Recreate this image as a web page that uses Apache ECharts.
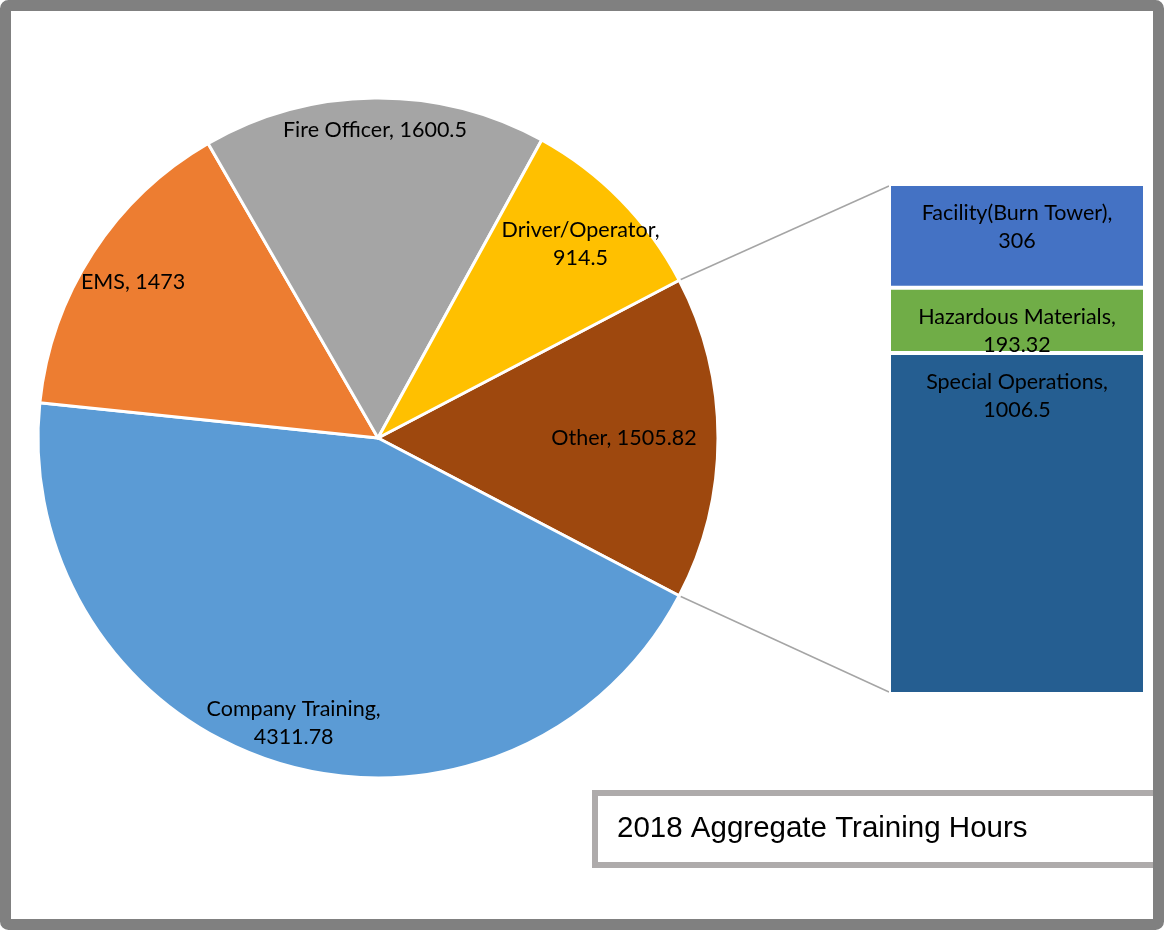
<!DOCTYPE html>
<html>
<head>
<meta charset="utf-8">
<style>
  html, body { margin: 0; padding: 0; background: #fff; }
  #main { width: 1164px; height: 930px; }
</style>
<script src="https://cdn.jsdelivr.net/npm/echarts@6/dist/echarts.min.js"></script>
</head>
<body>
<div id="main"></div>
<script>
// pie slices, in clockwise order starting from "Other"
var pieNames = ['Other', 'Company Training', 'EMS', 'Fire Officer', 'Driver/Operator'];
var pieValues = [1505.82, 4311.78, 1473, 1600.5, 914.5];
var pieColors = ['#9E480E', '#5B9BD5', '#ED7D31', '#A5A5A5', '#FFC000'];

// breakdown of "Other", bottom to top
var barNames = ['Special Operations', 'Hazardous Materials', 'Facility(Burn Tower)'];
var barValues = [1006.5, 193.32, 306];
var barColors = ['#255E91', '#70AD47', '#4472C4'];

var titleText = '2018 Aggregate Training Hours';

var cx = 378, cy = 438, R = 340;
var total = pieValues.reduce(function (a, b) { return a + b; }, 0);
var otherTotal = barValues.reduce(function (a, b) { return a + b; }, 0);
var startAngle = pieValues[0] / total * 360 / 2;

var labelFont = 'Lato, "Noto Sans", sans-serif';

var pieData = pieNames.map(function (n, i) {
    return { name: n, value: pieValues[i], itemStyle: { color: pieColors[i] } };
});
var labelData = pieNames.map(function (n, i) {
    return { name: n, value: pieValues[i] };
});

var series = [
    {
        type: 'pie',
        center: [cx, cy],
        radius: [0, R],
        startAngle: startAngle,
        clockwise: true,
        silent: true,
        animation: false,
        label: { show: false },
        labelLine: { show: false },
        itemStyle: { borderColor: '#fff', borderWidth: 3 },
        data: pieData
    },
    {
        // transparent ring that only carries the labels
        type: 'pie',
        center: [cx, cy],
        radius: [R * 0.7, R],
        startAngle: startAngle,
        clockwise: true,
        silent: true,
        animation: false,
        itemStyle: { color: 'rgba(0,0,0,0)' },
        label: {
            show: true,
            position: 'inside',
            color: '#000',
            fontFamily: labelFont,
            fontSize: 21.5,
            lineHeight: 28,
            formatter: function (p) {
                if (p.name === 'Company Training' || p.name === 'Driver/Operator') {
                    return p.name + ',\n' + p.value;
                }
                return p.name + ', ' + p.value;
            }
        },
        labelLayout: function (p) {
            if (p.dataIndex === 0) return { dx: -23 };
            if (p.dataIndex === 1) return { dy: 3 };
            if (p.dataIndex === 2) return { dy: 1.5 };
            if (p.dataIndex === 3) return { dy: -8 };
            if (p.dataIndex === 4) return { dx: -3, dy: 5 };
            return {};
        },
        data: labelData
    }
];

barNames.forEach(function (n, i) {
    series.push({
        type: 'bar',
        name: n,
        stack: 'other',
        barWidth: '100%',
        silent: true,
        animation: false,
        itemStyle: { color: barColors[i], borderColor: '#fff', borderWidth: 2 },
        label: {
            show: true,
            position: 'insideTop',
            distance: 15,
            color: '#000',
            fontFamily: labelFont,
            fontSize: 21.5,
            lineHeight: 28,
            formatter: function (p) { return p.seriesName + ',\n' + p.value; }
        },
        data: [barValues[i]]
    });
});

var chart = echarts.init(document.getElementById('main'));
chart.setOption({
    backgroundColor: '#fff',
    animation: false,
    grid: { left: 889, right: 19, top: 184, bottom: 236 },
    xAxis: { type: 'category', data: ['Other'], show: false },
    yAxis: { type: 'value', min: 0, max: otherTotal, show: false },
    series: series
});

// connector lines from the edges of "Other" to the bar corners
var a1 = startAngle * Math.PI / 180;
var p1 = [cx + R * Math.cos(a1), cy - R * Math.sin(a1)];
var p2 = [cx + R * Math.cos(-a1), cy - R * Math.sin(-a1)];
var topCorner = chart.convertToPixel({ gridIndex: 0 }, ['Other', otherTotal]);
var botCorner = chart.convertToPixel({ gridIndex: 0 }, ['Other', 0]);
var barLeft = 891;

chart.setOption({
    graphic: [
        {
            type: 'line', silent: true,
            shape: { x1: p1[0], y1: p1[1], x2: barLeft - 2, y2: topCorner[1] + 2 },
            style: { stroke: '#A5A5A5', lineWidth: 1.5 }
        },
        {
            type: 'line', silent: true,
            shape: { x1: p2[0], y1: p2[1], x2: barLeft - 2, y2: botCorner[1] - 2 },
            style: { stroke: '#A5A5A5', lineWidth: 1.5 }
        },
        {
            type: 'rect', silent: true,
            shape: { x: 595, y: 793, width: 600, height: 72 },
            style: { fill: '#fff', stroke: '#AEABAB', lineWidth: 6 }
        },
        {
            type: 'text', silent: true,
            left: 617, top: 814,
            style: { text: titleText, fill: '#000', font: '29.5px "Liberation Sans", Arial, sans-serif' }
        },
        {
            type: 'rect', silent: true, z: 100,
            shape: { x: 5.5, y: 5.5, width: 1153, height: 919, r: 3 },
            style: { fill: 'none', stroke: '#808080', lineWidth: 11 }
        }
    ]
});
</script>
</body>
</html>
